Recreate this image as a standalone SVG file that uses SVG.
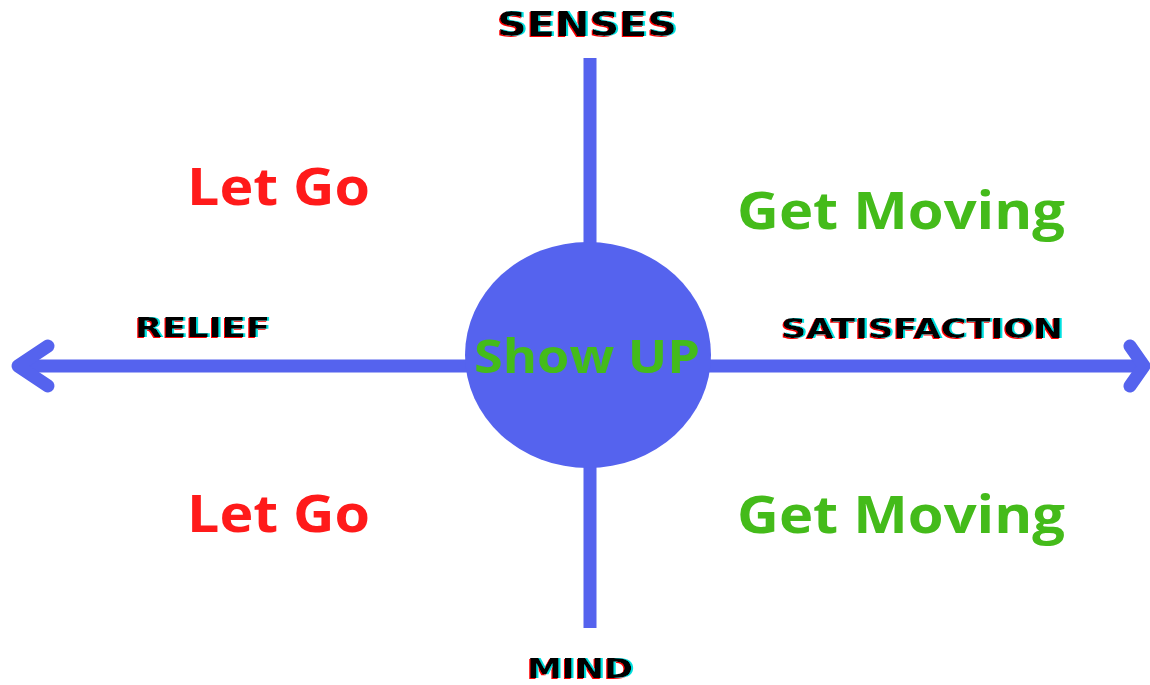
<svg xmlns="http://www.w3.org/2000/svg" width="1150" height="685" viewBox="0 0 1150 685">
  <defs>
    <style>
      .axis { stroke: #5563ee; stroke-width: 13; fill: none; }
      .head { stroke: #5563ee; stroke-width: 13; fill: none; stroke-linecap: round; stroke-linejoin: round; }
      .lab { font-family: "DejaVu Sans", "Liberation Sans", sans-serif; font-weight: bold; fill: #000; filter: url(#glitch); }
      .big { font-family: "Open Sans", "Liberation Sans", sans-serif; font-weight: bold; font-size: 52px; }
      .red { fill: #ff1a1a; }
      .green { fill: #44bb1a; }
    </style>
    <filter id="glitch" x="-10%" y="-30%" width="120%" height="160%">
      <feOffset in="SourceAlpha" dx="-1.5" dy="0.5" result="a"/>
      <feFlood flood-color="#ff0000"/>
      <feComposite in2="a" operator="in" result="r"/>
      <feOffset in="SourceAlpha" dx="1.5" dy="-0.5" result="b"/>
      <feFlood flood-color="#00e0e0"/>
      <feComposite in2="b" operator="in" result="c"/>
      <feMerge>
        <feMergeNode in="r"/>
        <feMergeNode in="c"/>
        <feMergeNode in="SourceGraphic"/>
      </feMerge>
    </filter>
  </defs>
  <rect width="1150" height="685" fill="#ffffff"/>
  <g id="connectors">
    <line class="axis" x1="590" y1="58" x2="590" y2="628"/>
    <line class="axis" x1="18" y1="366" x2="1144" y2="366"/>
    <polyline class="head" points="48,346 18,366 48,386"/>
    <polyline class="head" points="1130,346 1144,366 1130,386"/>
  </g>
  <g id="center">
    <ellipse cx="588" cy="355" rx="123" ry="113" fill="#5563ee"/>
    <text class="big green" x="587" y="373" text-anchor="middle" style="font-size:46px" textLength="226" lengthAdjust="spacingAndGlyphs">Show UP</text>
  </g>
  <g id="senses"><text class="lab" x="497" y="36" style="font-size:33px" textLength="180" lengthAdjust="spacingAndGlyphs">SENSES</text></g>
  <g id="mind"><text class="lab" x="527" y="678" style="font-size:27px" textLength="106" lengthAdjust="spacingAndGlyphs">MIND</text></g>
  <g id="relief"><text class="lab" x="135" y="337" style="font-size:26px" textLength="135" lengthAdjust="spacingAndGlyphs">RELIEF</text></g>
  <g id="satisfaction"><text class="lab" x="781" y="338" style="font-size:26px" textLength="282" lengthAdjust="spacingAndGlyphs">SATISFACTION</text></g>
  <g id="letgo-top"><text class="big red" x="187" y="205" textLength="183" lengthAdjust="spacingAndGlyphs">Let Go</text></g>
  <g id="letgo-bottom"><text class="big red" x="187" y="532" textLength="183" lengthAdjust="spacingAndGlyphs">Let Go</text></g>
  <g id="getmoving-top"><text class="big green" x="737" y="229" textLength="328" lengthAdjust="spacingAndGlyphs">Get Moving</text></g>
  <g id="getmoving-bottom"><text class="big green" x="737" y="533" textLength="328" lengthAdjust="spacingAndGlyphs">Get Moving</text></g>
</svg>
